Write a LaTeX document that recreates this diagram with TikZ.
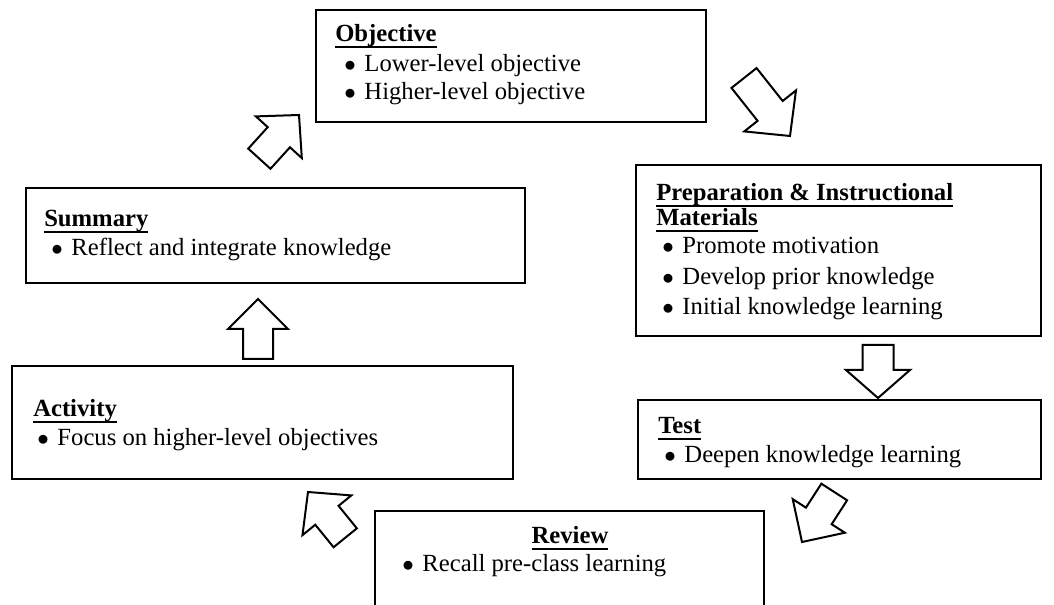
\documentclass[tikz,border=0pt]{standalone}
\usepackage{fontspec}
\setmainfont{Liberation Serif}
\newcommand\hdline[1]{\setbox0=\hbox{\bfseries #1}\leavevmode\rlap{\copy0}\rule[-4.4pt]{\wd0}{1.3pt}}
\newcommand\bul[1]{$\bullet$\hspace{6.5pt}#1}
\newcommand\blockarrow[7]{%
  \draw[barrow, shift={(#1,#2)}, rotate=#3] (0,0) -- (-#5,#6) -- (-#5,#7) -- (-#4,#7) -- (-#4,-#7) -- (-#5,-#7) -- (-#5,-#6) -- cycle;}
\tikzset{
  box/.style={draw=black, line width=1.5pt, rectangle, inner sep=0pt, fill=white},
  txt/.style={inner sep=0pt, anchor=base west, font=\fontsize{18.5pt}{22pt}\selectfont, text=black},
  barrow/.style={draw=black, line width=1.5pt, line join=miter, fill=white},
}
\begin{document}
\begin{tikzpicture}[x=0.75pt, y=-0.75pt]
\useasboundingbox (0,0) rectangle (1054,605);
\clip (0,0) rectangle (1054,605);
\fill[white] (0,0) rectangle (1054,605);
% boxes
\node[box, minimum width=292.5pt, minimum height=84pt] (obj) at (511,66) {};
\node[box, minimum width=303.75pt, minimum height=128pt] (prep) at (838.5,250.5) {};
\node[box, minimum width=302.25pt, minimum height=59.25pt] (test) at (839.5,439.5) {};
\node[box, minimum width=291.75pt, minimum height=85.5pt] (rev) at (569.5,568) {};
\node[box, minimum width=375.75pt, minimum height=84.75pt] (act) at (262.5,422.5) {};
\node[box, minimum width=374.25pt, minimum height=71.25pt] (sum) at (275.5,235.5) {};
% texts
\node[txt] (objh) at (335,42) {\hdline{Objective}};
\node[txt] (obj1) at (344,72) {\bul{Lower-level objective}};
\node[txt] (obj2) at (344,100) {\bul{Higher-level objective}};
\node[txt] (preph1) at (656,201) {\hdline{Preparation \& Instructional}};
\node[txt] (preph2) at (656,226) {\hdline{Materials}};
\node[txt] (prep1) at (662,254) {\bul{Promote motivation}};
\node[txt] (prep2) at (662,285) {\bul{Develop prior knowledge}};
\node[txt] (prep3) at (662,315) {\bul{Initial knowledge learning}};
\node[txt] (testh) at (658,434) {\hdline{Test}};
\node[txt] (test1) at (664,463) {\bul{Deepen knowledge learning}};
\node[txt, anchor=base] (revh) at (570,544) {\hdline{Review}};
\node[txt] (rev1) at (402,572) {\bul{Recall pre-class learning}};
\node[txt] (acth) at (33,417) {\hdline{Activity}};
\node[txt] (act1) at (37,446) {\bul{Focus on higher-level objectives}};
\node[txt] (sumh) at (44,227) {\hdline{Summary}};
\node[txt] (sum1) at (51,256) {\bul{Reflect and integrate knowledge}};
% block arrows: tip x, tip y, angle, L, H, W, w
\blockarrow{299}{115}{47.8}{59}{30}{31}{15}
\blockarrow{790}{136}{-51.6}{74}{32}{33}{16}
\blockarrow{878}{398}{-90}{53}{28}{32}{15.5}
\blockarrow{802}{542}{-122.8}{59.5}{31}{31}{15.3}
\blockarrow{308}{492}{129.1}{59}{30}{31.5}{15}
\blockarrow{258}{299}{90}{60}{30}{30}{15}
\end{tikzpicture}
\end{document}
